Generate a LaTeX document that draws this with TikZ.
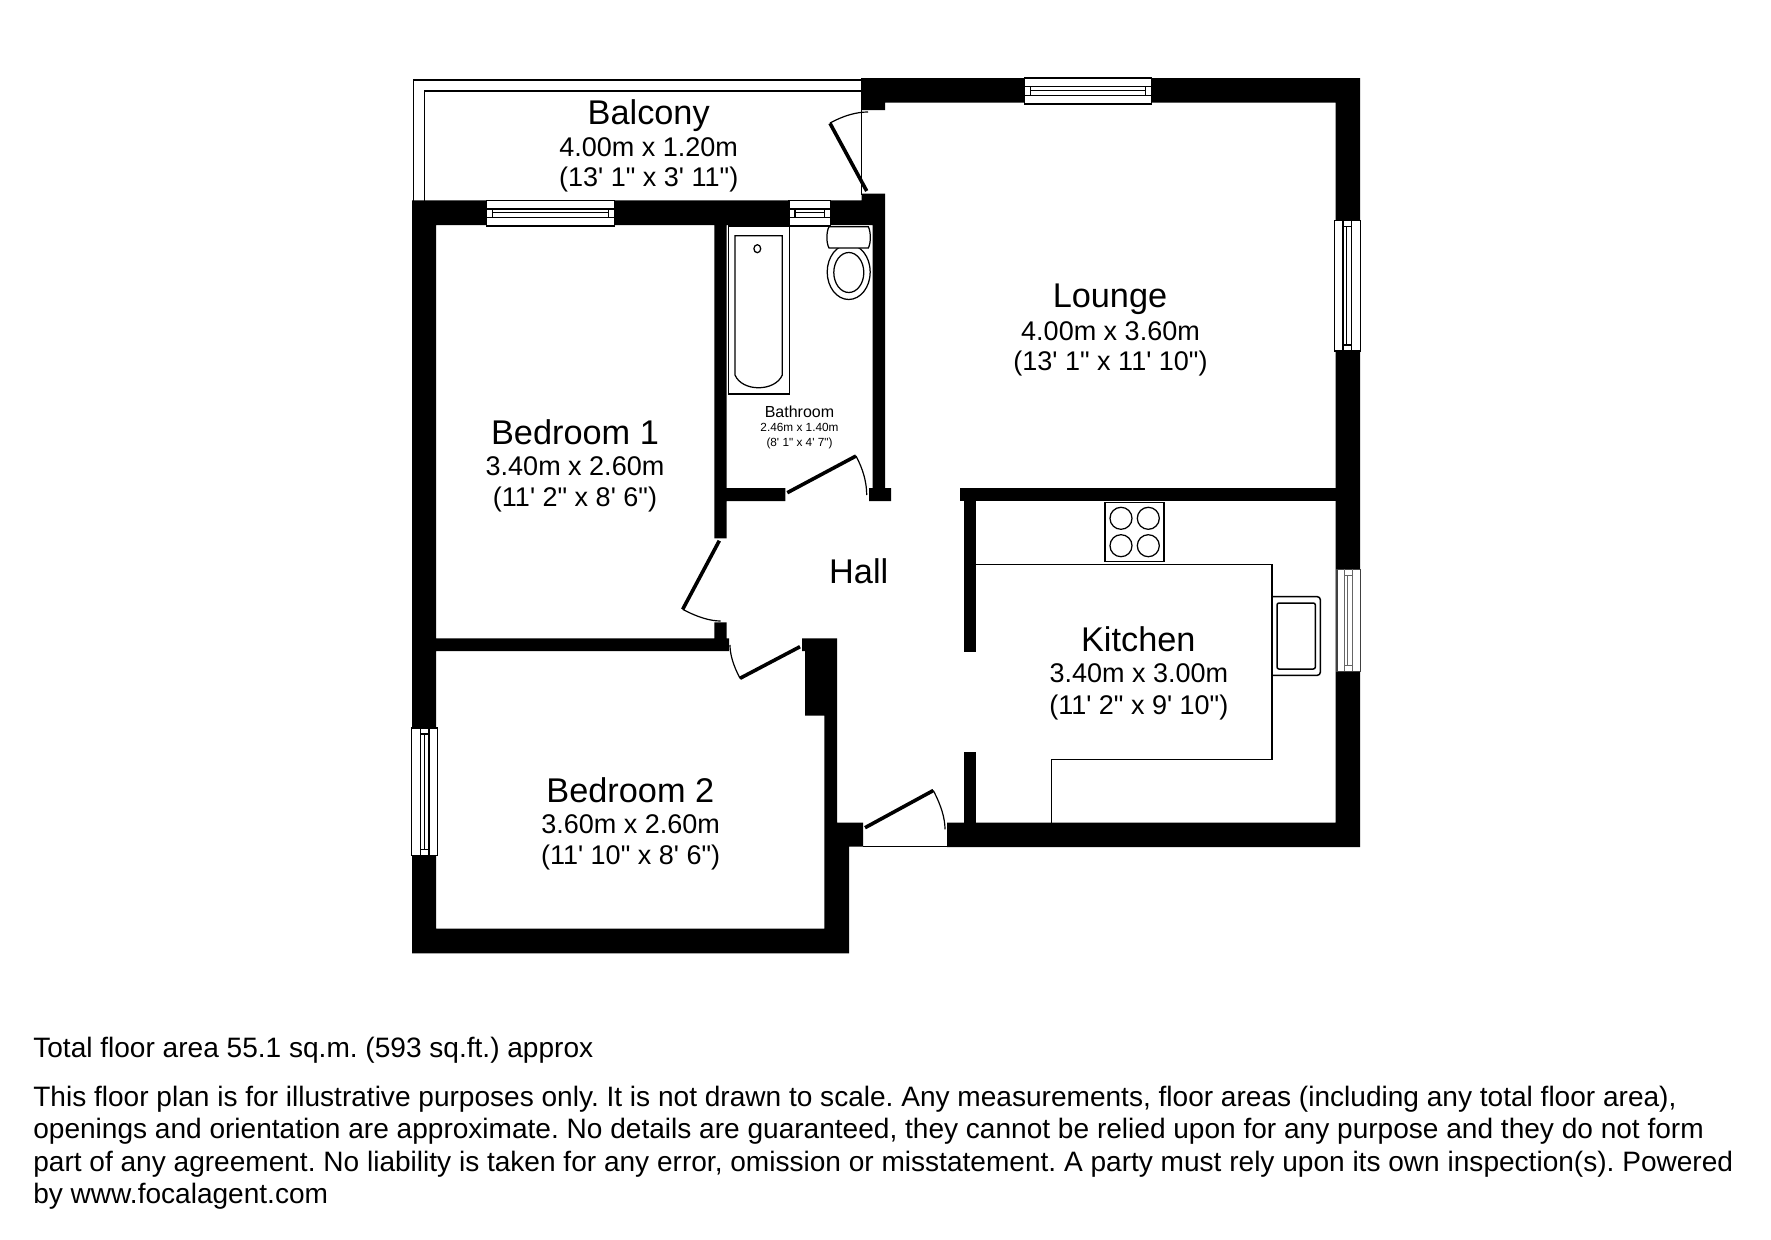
\documentclass[tikz,border=0pt]{standalone}
\usepackage{fontspec}
\newfontfamily\planfont{Liberation Sans}
\frenchspacing
\tikzset{
  wallpart/.style={fill=black,draw=none},
  fineline/.style={draw=black,line width=1.25pt},
  leafline/.style={draw=black,line width=3.6pt,line cap=butt},
  swingline/.style={draw=black,line width=1.2pt},
  whitefine/.style={draw=black,fill=white,line width=1.25pt},
  txt/.style={inner sep=0pt,outer sep=0pt,anchor=base,text=black,font=\planfont},
  roomtitle/.style={txt,yshift=-0.7pt,font=\planfont\fontsize{34.3}{35}\selectfont},
  roomsize/.style={txt,font=\planfont\fontsize{27}{28}\selectfont},
  bathtitle/.style={txt,yshift=-0.5pt,font=\planfont\fontsize{16}{16}\selectfont},
  bathsize/.style={txt,font=\planfont\fontsize{11.8}{12}\selectfont},
  footline/.style={txt,anchor=base west,font=\planfont\fontsize{28.06}{29}\selectfont},
}
% horizontal window: x1 x2 y1 y2
\newcommand{\hwindow}[4]{%
  \draw[whitefine] (#1,#3) rectangle (#2,#4);
  \draw[fineline] (#1,#3+8.7) -- (#2,#3+8.7) (#1,#3+17.3) -- (#2,#3+17.3);
  \draw[fineline] (#1+6,#3+8.7) -- (#1+6,#3+17.3) (#2-6,#3+8.7) -- (#2-6,#3+17.3);
  \draw[fineline,line width=.9pt] (#1+6,#3+12.5) -- (#2-6,#3+12.5);
}
% vertical window: x1 x2 y1 y2
\newcommand{\vwindow}[4]{%
  \draw[whitefine] (#1,#3) rectangle (#2,#4);
  \draw[fineline] (#1+8.7,#3) -- (#1+8.7,#4) (#1+17.3,#3) -- (#1+17.3,#4);
  \draw[fineline] (#1+8.7,#3+6) -- (#1+17.3,#3+6) (#1+8.7,#4-6) -- (#1+17.3,#4-6);
  \draw[fineline,line width=.9pt] (#1+12.5,#3+6) -- (#1+12.5,#4-6);
}
\begin{document}
\begin{tikzpicture}[x=1pt,y=-1pt]
\useasboundingbox (0,0) rectangle (1771,1239);
\fill[white] (0,0) rectangle (1771,1239);

% balcony
\draw[fineline] (861,80) -- (413.7,80) -- (413.7,200.5);
\draw[fineline] (861,91) -- (424.3,91) -- (424.3,200.5);
\draw[fineline] (861.7,108) -- (861.7,195);

% walls
\fill[wallpart] (861,78) -- (1360,78) -- (1360,847) -- (947,847) -- (947,822.7)
  -- (1335.7,822.7) -- (1335.7,102.7) -- (885,102.7) -- (885,110) -- (861,110) -- cycle;
\fill[wallpart] (412,200.3) -- (861.7,200.3) -- (861.7,193.7) -- (885,193.7) -- (885,488)
  -- (891,488) -- (891,501) -- (869,501) -- (869,488) -- (872.7,488) -- (872.7,225)
  -- (726.7,225) -- (726.7,488) -- (785.3,488) -- (785.3,501) -- (726.7,501) -- (726.7,538.3)
  -- (714.3,538.3) -- (714.3,225) -- (436,225) -- (436,638.3) -- (714.3,638.3) -- (714.3,622.3)
  -- (726.7,622.3) -- (726.7,638.3) -- (729,638.3) -- (729,651) -- (436,651) -- (436,928.7)
  -- (824.3,928.7) -- (824.3,715.7) -- (805,715.7) -- (805,651) -- (802,651) -- (802,638.3)
  -- (837,638.3) -- (837,822.7) -- (863,822.7) -- (863,846.7) -- (849,846.7) -- (849,953.3)
  -- (412,953.3) -- cycle;
\fill[wallpart] (960,488.3) rectangle (1336,500.7);
\fill[wallpart] (964,500) rectangle (976.3,652.3);
\fill[wallpart] (964,751.7) rectangle (976.3,823);
\draw[fineline] (863,846.7) -- (947,846.7);

% windows
\hwindow{486.3}{614.3}{200.3}{226}
\hwindow{789}{830.7}{200.3}{226}
\hwindow{1024.3}{1151.7}{78}{104}
\vwindow{1334.3}{1360.3}{220.3}{351}
\vwindow{411.7}{437.7}{728}{855.7}
% kitchen window
\draw[whitefine,draw=black!75] (1337,569.3) rectangle (1360.3,671.3);
\draw[fineline,draw=black!60,line width=1pt] (1344,569.3) -- (1344,671.3) (1352,569.3) -- (1352,671.3);
\draw[fineline,draw=black!60,line width=1pt] (1344,575) -- (1352,575) (1344,665.5) -- (1352,665.5);
\draw[fineline,draw=black!60,line width=.8pt] (1347.8,575) -- (1347.8,665.5);

% doors
\draw[leafline] (866.7,191) -- (830,123.3);
\draw[swingline] (830,123) .. controls (843.6,115.7) and (856,112) .. (868,112);
\draw[leafline] (787.3,492.7) -- (856,456);
\draw[swingline] (856,456) .. controls (863.1,469.3) and (866.7,482.3) .. (866.7,495);
\draw[leafline] (719.3,540.7) -- (682.7,609.3);
\draw[swingline] (682.7,609.3) .. controls (697.3,617.1) and (710,621) .. (720.7,621);
\draw[leafline] (800,646.7) -- (740,678.3);
\draw[swingline] (740,678.3) .. controls (733.3,665.6) and (730,654.5) .. (730,645);
\draw[leafline] (865,827.7) -- (933.3,790.5);
\draw[swingline] (933.3,790.5) .. controls (941,805.2) and (945,818) .. (945,829.3);

% bath
\draw[fineline] (728.3,226) rectangle (789.3,394);
\draw[fineline] (782.3,375) -- (782.3,235.7) -- (735,235.7) -- (735,375)
  .. controls (742,392) and (775,392) .. (782.3,375);
\draw[fineline] (757.3,248.7) ellipse [x radius=3.4,y radius=4];
% toilet
\draw[fineline] (848.7,272) ellipse [x radius=21.5,y radius=27.5];
\draw[fineline] (848.8,272.5) ellipse [x radius=15,y radius=20];
\draw[whitefine] (829,226.7) -- (868.3,226.7) .. controls (871,232) and (871,243) .. (868.3,248)
  -- (829,248) .. controls (826.2,243) and (826.2,232) .. (829,226.7) -- cycle;

% kitchen fittings
\draw[fineline] (976,564.3) -- (1272,564.3) -- (1272,759.3) -- (1051.7,759.3) -- (1051.7,822.7);
\draw[whitefine] (1105,502.3) rectangle (1164,561.3);
\foreach \cx in {1121,1148.3} \foreach \cy in {518.3,545.7}
  \draw[fineline] (\cx,\cy) circle (11);
\draw[fineline,line width=1.5pt,rounded corners=3pt] (1272,596.7) -- (1320.3,596.7) -- (1320.3,675.3) -- (1272,675.3);
\draw[fineline,line width=1.5pt,rounded corners=2pt] (1277,603) rectangle (1315.3,669);

% room labels
\node[roomtitle] (balconyname) at (648.7,123.3) {Balcony};
\node[roomsize] (balconya) at (648.7,156) {4.00m x 1.20m};
\node[roomsize] (balconyb) at (648.7,186.7) {(13' 1" x 3' 11")};
\node[roomtitle] (bedonename) at (575,443.3) {Bedroom 1};
\node[roomsize] (bedonea) at (575,475) {3.40m x 2.60m};
\node[roomsize] (bedoneb) at (575,506.7) {(11' 2" x 8' 6")};
\node[roomtitle] (hallname) at (858.7,582.8) {Hall};
\node[bathtitle] (bathname) at (799.5,417) {Bathroom};
\node[bathsize] (batha) at (799.5,431.7) {2.46m x 1.40m};
\node[bathsize] (bathb) at (799.5,446) {(8' 1" x 4' 7")};
\node[roomtitle] (loungename) at (1110,306.7) {Lounge};
\node[roomsize] (loungea) at (1110.5,340) {4.00m x 3.60m};
\node[roomsize] (loungeb) at (1110.5,370.7) {(13' 1" x 11' 10")};
\node[roomtitle] (kitchenname) at (1138.3,650.7) {Kitchen};
\node[roomsize] (kitchena) at (1138.8,682.7) {3.40m x 3.00m};
\node[roomsize] (kitchenb) at (1138.8,714.3) {(11' 2" x 9' 10")};
\node[roomtitle] (bedtwoname) at (630.3,801.7) {Bedroom 2};
\node[roomsize] (bedtwoa) at (630.6,833.3) {3.60m x 2.60m};
\node[roomsize] (bedtwob) at (630.6,864.3) {(11' 10" x 8' 6")};

% footer
\node[footline] (foota) at (33.3,1057.3) {Total floor area 55.1 sq.m. (593 sq.ft.) approx};
\node[footline] (footb) at (33.3,1106.7) {This floor plan is for illustrative purposes only. It is not drawn to scale. Any measurements, floor areas (including any total floor area),};
\node[footline] (footc) at (33.3,1138.3) {openings and orientation are approximate. No details are guaranteed, they cannot be relied upon for any purpose and they do not form};
\node[footline] (footd) at (33.3,1171.5) {part of any agreement. No liability is taken for any error, omission or misstatement. A party must rely upon its own inspection(s). Powered};
\node[footline] (foote) at (33.3,1203.5) {by www.focalagent.com};
\end{tikzpicture}
\end{document}
